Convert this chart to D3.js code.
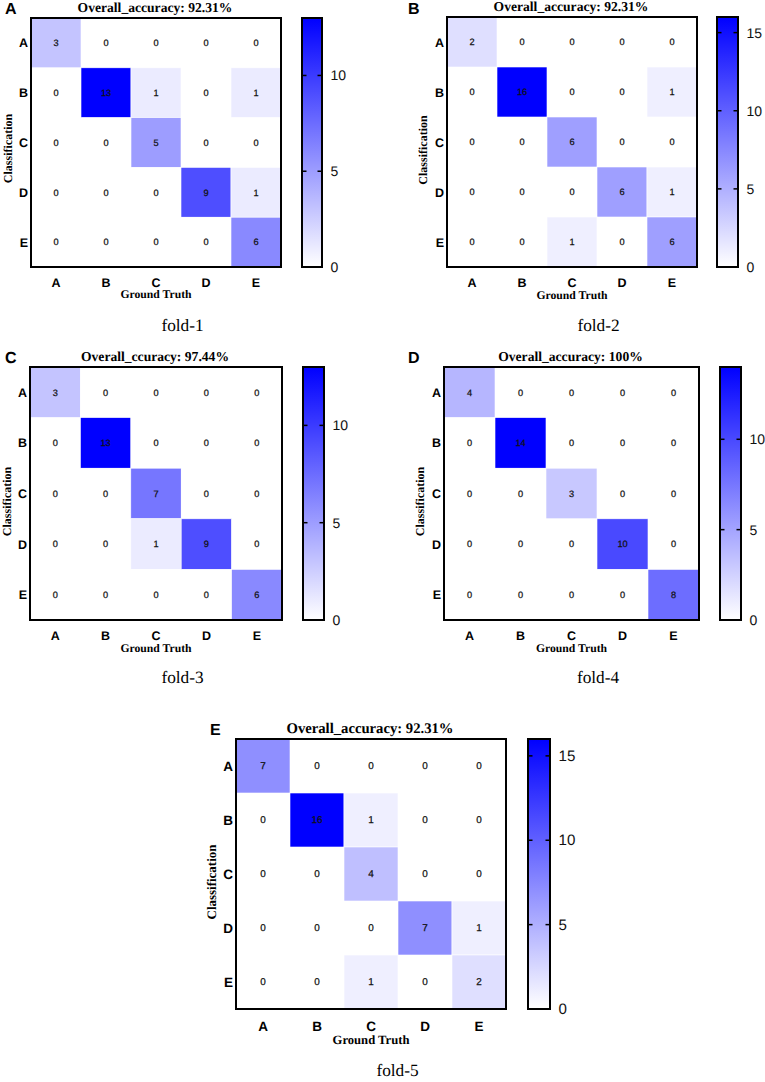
<!DOCTYPE html>
<html><head><meta charset="utf-8">
<script src="https://cdn.jsdelivr.net/npm/d3@7/dist/d3.min.js"></script>
<style>html,body{margin:0;padding:0;background:#fff}svg{display:block;text-rendering:geometricPrecision}</style>
</head><body><svg id="c" width="765" height="1082"></svg>
<script>
const classes = ["A","B","C","D","E"];
const fold1 = [[3,0,0,0,0],[0,13,1,0,1],[0,0,5,0,0],[0,0,0,9,1],[0,0,0,0,6]];
const fold2 = [[2,0,0,0,0],[0,16,0,0,1],[0,0,6,0,0],[0,0,0,6,1],[0,0,1,0,6]];
const fold3 = [[3,0,0,0,0],[0,13,0,0,0],[0,0,7,0,0],[0,0,1,9,0],[0,0,0,0,6]];
const fold4 = [[4,0,0,0,0],[0,14,0,0,0],[0,0,3,0,0],[0,0,0,10,0],[0,0,0,0,8]];
const fold5 = [[7,0,0,0,0],[0,16,1,0,0],[0,0,4,0,0],[0,0,0,7,1],[0,0,1,0,2]];
const titles = ["Overall_accuracy: 92.31%","Overall_accuracy: 92.31%","Overall_ccuracy: 97.44%","Overall_accuracy: 100%","Overall_accuracy: 92.31%"];
const captions = ["fold-1","fold-2","fold-3","fold-4","fold-5"];
const letters = ["A","B","C","D","E"];
const colorTicks = [[0,5,10],[0,5,10,15],[0,5,10],[0,5,10],[0,5,10,15]];
const matrices = [fold1,fold2,fold3,fold4,fold5];
const layouts = [
 {x0:31,x1:281,y0:18,y1:267,cx0:302,cx1:322,lx:5,ly:14,k:1,cap:64,gt:31,yl:6,ylx:19,tick:20},
 {x0:447,x1:697,y0:17,y1:267,cx0:717,cx1:738,lx:408,ly:14,k:1,cap:64,gt:32,yl:8,ylx:20,tick:20},
 {x0:30,x1:282,y0:367,y1:620,cx0:303,cx1:324,lx:5,ly:363,k:1,cap:63,gt:32,yl:8,ylx:19,tick:20},
 {x0:444,x1:699,y0:367,y1:620,cx0:720,cx1:741,lx:408,ly:363,k:1,cap:63,gt:32,yl:8,ylx:20,tick:20},
 {x0:236,x1:506,y0:739,y1:1009,cx0:528,cx1:550,lx:210,ly:735,k:1.08,cap:67,gt:35,yl:8,ylx:20,tick:22}
];
const svg = d3.select("#c");
const serif = "'Liberation Serif',serif", sans = "'Liberation Sans',Arial,sans-serif";
layouts.forEach((L,p)=>{
  const M = matrices[p], vmax = d3.max(M.flat());
  const color = d3.scaleLinear().domain([0,vmax]).range(["#ffffff","#0000ff"]);
  const g = svg.append("g");
  const x = d3.scaleBand().domain(classes).range([L.x0,L.x1]);
  const y = d3.scaleBand().domain(classes).range([L.y0,L.y1]);
  classes.forEach((r,i)=>classes.forEach((c,j)=>{
    g.append("rect").attr("x",x(c)).attr("y",y(r)).attr("width",x.bandwidth()).attr("height",y.bandwidth())
      .attr("fill",M[i][j]===0?"#fff":color(M[i][j])).attr("stroke",M[i][j]===0?"none":"#fff").attr("stroke-width",0.6);
  }));
  classes.forEach((r,i)=>classes.forEach((c,j)=>{
    g.append("text").attr("x",x(c)+x.bandwidth()/2).attr("y",y(r)+y.bandwidth()/2+3.2)
      .attr("text-anchor","middle").attr("font-family",sans).attr("font-size",9.2*L.k).attr("fill","#111")
      .attr("stroke","#111").attr("stroke-width",0.25).text(M[i][j]);
  }));
  g.append("rect").attr("x",L.x0).attr("y",L.y0).attr("width",L.x1-L.x0).attr("height",L.y1-L.y0)
    .attr("fill","none").attr("stroke","#000").attr("stroke-width",2);
  classes.forEach(c=>{
    g.append("text").attr("x",x(c)+x.bandwidth()/2).attr("y",L.y1+L.tick).attr("text-anchor","middle")
      .attr("font-family",sans).attr("font-weight","bold").attr("font-size",12.5*L.k).text(c);
    g.append("text").attr("x",L.x0-3).attr("y",y(c)+y.bandwidth()/2+4.5).attr("text-anchor","end")
      .attr("font-family",sans).attr("font-weight","bold").attr("font-size",12.5*L.k).text(c);
  });
  const cx=(L.x0+L.x1)/2, cy=(L.y0+L.y1)/2;
  g.append("text").attr("x",cx).attr("y",L.y1+L.gt).attr("text-anchor","middle").attr("font-family",serif)
    .attr("font-weight","bold").attr("font-size",11.7*L.k).text("Ground Truth");
  g.append("text").attr("transform",`translate(${L.x0-L.ylx},${cy+L.yl}) rotate(-90)`).attr("text-anchor","middle")
    .attr("font-family",serif).attr("font-weight","bold").attr("font-size",12*L.k).text("Classification");
  g.append("text").attr("x",cx-1).attr("y",L.y0-6).attr("text-anchor","middle").attr("font-family",serif)
    .attr("font-weight","bold").attr("font-size",13.6*L.k).text(titles[p]);
  g.append("text").attr("x",cx+26.5).attr("y",L.y1+L.cap).attr("text-anchor","middle").attr("font-family",serif)
    .attr("font-size",17.3).text(captions[p]);
  g.append("text").attr("x",L.lx).attr("y",L.ly).attr("font-family",sans).attr("font-weight","bold")
    .attr("font-size",16).text(letters[p]);
  const gid="grad"+p;
  const grad=svg.append("defs").append("linearGradient").attr("id",gid).attr("x1",0).attr("x2",0).attr("y1",1).attr("y2",0);
  grad.append("stop").attr("offset",0).attr("stop-color",color(0));
  grad.append("stop").attr("offset",1).attr("stop-color",color(vmax));
  g.append("rect").attr("x",L.cx0).attr("y",L.y0).attr("width",L.cx1-L.cx0).attr("height",L.y1-L.y0)
    .attr("fill",`url(#${gid})`).attr("stroke","#000").attr("stroke-width",2);
  const cs=d3.scaleLinear().domain([0,vmax]).range([L.y1,L.y0]);
  colorTicks[p].forEach(t=>{
    if(t>0){[[L.cx0,L.cx0+4.5],[L.cx1-4.5,L.cx1]].forEach(a=>g.append("line").attr("x1",a[0]).attr("x2",a[1])
      .attr("y1",cs(t)).attr("y2",cs(t)).attr("stroke","#000").attr("stroke-width",1.5));}
    g.append("text").attr("x",L.cx1+8.5).attr("y",cs(t)+5).attr("font-family",sans).attr("font-size",14*L.k).attr("fill","#111").text(t);
  });
});
</script></body></html>
